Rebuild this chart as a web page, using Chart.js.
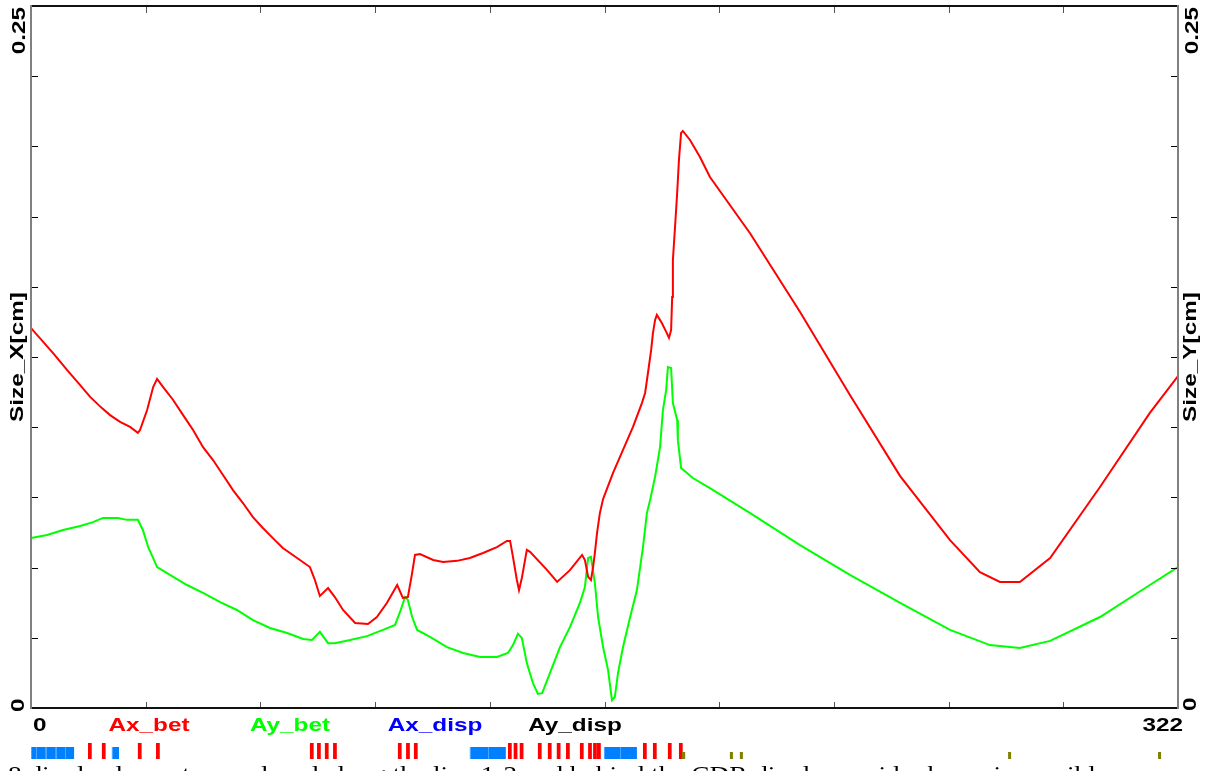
<!DOCTYPE html>
<html>
<head>
<meta charset="utf-8">
<script src="https://cdn.jsdelivr.net/npm/chart.js@4.4.1/dist/chart.umd.min.js"></script>
<style>
  html, body { margin: 0; padding: 0; background: #fff; }
  #wrap { width: 1208px; height: 771px; }
</style>
</head>
<body>
<div id="wrap"><canvas id="optics" width="1208" height="771"></canvas></div>
<script>
'use strict';

// beam size along the line (s in m, size in cm)
const sX = [0, 6.2, 10.1, 13.8, 16.6, 19.9, 22.2, 25.0, 27.8, 30.0, 30.6, 32.6, 34.3, 35.4, 37.1, 39.9, 42.7, 45.5, 48.3, 51.1,
  53.9, 56.7, 59.5, 62.3, 65.1, 67.9, 70.7, 74.7, 78.3, 79.7, 81.1, 83.4, 85.3, 87.6, 91.0, 94.6, 97.1, 99.9, 102.8, 104.4,
  105.8, 107.0, 107.8, 109.2, 112.9, 115.7, 119.6, 123.2, 126.9, 130.8, 133.6, 134.5, 135.3, 136.4, 137.0, 137.8, 139.2, 140.1, 144.9, 147.7,
  151.3, 154.7, 155.5, 156.4, 157.2, 157.8, 158.3, 158.9, 159.7, 160.6, 163.4, 166.2, 169.0, 171.5, 172.4, 173.2, 174.1, 174.6, 175.2, 175.7,
  177.1, 178.5, 179.1, 179.7, 180.0, 180.2, 180.8, 181.4, 181.9, 182.5, 183.0, 185.0, 187.8, 190.6, 201.9, 215.9, 229.9, 244.0, 258.0, 266.4,
  272.0, 277.6, 286.1, 300.1, 314.1, 322];
const sizeX = [0.1353, 0.1264, 0.1204, 0.1150, 0.1108, 0.1068, 0.1043, 0.1019, 0.1001, 0.0980, 0.0990, 0.1061, 0.1143, 0.1172, 0.1143, 0.1097, 0.1043, 0.0990, 0.0929, 0.0883,
  0.0830, 0.0776, 0.0730, 0.0680, 0.0641, 0.0605, 0.0570, 0.0534, 0.0502, 0.0456, 0.0399, 0.0427, 0.0395, 0.0349, 0.0303, 0.0299, 0.0324, 0.0374, 0.0438, 0.0392,
  0.0395, 0.0481, 0.0545, 0.0548, 0.0527, 0.0520, 0.0524, 0.0534, 0.0552, 0.0573, 0.0595, 0.0595, 0.0538, 0.0456, 0.0420, 0.0463, 0.0563, 0.0556, 0.0491, 0.0449,
  0.0491, 0.0545, 0.0527, 0.0467, 0.0456, 0.0502, 0.0552, 0.0623, 0.0694, 0.0744, 0.0837, 0.0919, 0.1001, 0.1086, 0.1122, 0.1193, 0.1275, 0.1335, 0.1382, 0.1400,
  0.1371, 0.1335, 0.1318, 0.1346, 0.1464, 0.1595, 0.1713, 0.1834, 0.1952, 0.2048, 0.2055, 0.2023, 0.1962, 0.1891, 0.1690, 0.1410, 0.1115, 0.0826, 0.0598, 0.0484,
  0.0449, 0.0449, 0.0534, 0.0787, 0.1051, 0.1182];

const sY = [0, 4.5, 9.0, 13.8, 17.4, 20.2, 24.4, 27.0, 30.0, 31.4, 32.9, 34.3, 35.4, 39.0, 43.8, 48.3, 53.1, 57.8, 62.3, 67.1,
  71.9, 76.4, 78.9, 81.1, 83.4, 85.3, 89.6, 94.3, 98.8, 102.2, 103.6, 105.0, 105.8, 107.0, 108.4, 112.0, 116.8, 121.3, 126.1, 130.8,
  133.9, 135.3, 136.7, 137.8, 139.2, 140.9, 142.3, 143.5, 145.7, 148.5, 151.3, 154.1, 155.5, 156.4, 157.2, 158.3, 159.2, 160.6, 162.0, 163.1,
  163.9, 164.8, 166.2, 168.2, 170.1, 171.8, 172.9, 173.8, 175.2, 176.6, 177.4, 178.3, 178.8, 179.7, 180.2, 181.4, 181.6, 182.5, 185.8, 190.6,
  201.9, 215.9, 229.9, 244.0, 258.0, 269.2, 277.6, 286.1, 300.1, 314.1, 322];
const sizeY = [0.0605, 0.0616, 0.0634, 0.0648, 0.0662, 0.0677, 0.0677, 0.0670, 0.0670, 0.0634, 0.0573, 0.0534, 0.0502, 0.0474, 0.0438, 0.0410, 0.0377, 0.0349, 0.0313, 0.0285,
  0.0267, 0.0246, 0.0242, 0.0271, 0.0231, 0.0231, 0.0242, 0.0256, 0.0278, 0.0296, 0.0342, 0.0395, 0.0385, 0.0324, 0.0278, 0.0253, 0.0217, 0.0196, 0.0182, 0.0182,
  0.0196, 0.0224, 0.0264, 0.0249, 0.0160, 0.0089, 0.0050, 0.0053, 0.0125, 0.0217, 0.0288, 0.0374, 0.0431, 0.0534, 0.0538, 0.0445, 0.0324, 0.0217, 0.0135, 0.0028,
  0.0039, 0.0125, 0.0217, 0.0324, 0.0420, 0.0573, 0.0694, 0.0741, 0.0823, 0.0930, 0.1061, 0.1132, 0.1214, 0.1211, 0.1086, 0.1026, 0.0954, 0.0855, 0.0819, 0.0783,
  0.0694, 0.0580, 0.0474, 0.0374, 0.0278, 0.0224, 0.0214, 0.0239, 0.0324, 0.0438, 0.0502];

// axis ticks and labels
const xTicks = [0, 32.2, 64.4, 96.6, 128.8, 161, 193.2, 225.4, 257.6, 289.8, 322];
const yTicks = [0, 0.025, 0.05, 0.075, 0.1, 0.125, 0.15, 0.175, 0.2, 0.225, 0.25];
const xEndLabels = ['0', '322'];
const yEndLabels = ['0', '0.25'];
const legendNames = ['Ax_bet', 'Ay_bet', 'Ax_disp', 'Ay_disp'];
const legendColors = ['#ff0000', '#00ff00', '#0000ff', '#000000'];

// lattice elements (start s, length)
const bendStart = [0, 1.4, 4.1, 6.9, 9.6, 22.7, 123.2, 128.3, 160.9, 165.4];
const bendLen = [1.4, 2.7, 2.8, 2.7, 2.5, 2.0, 5.1, 5.0, 4.5, 4.7];
const quadStart = [16.0, 19.9, 30.0, 35.1, 78.3, 80.3, 82.5, 84.8, 103.0, 105.3, 107.5, 133.9, 135.5, 137.2,
  142.3, 145.1, 147.6, 150.2, 154.1, 156.4, 157.8, 158.9, 171.8, 174.6, 178.8, 181.9];
const quadLen = 1.05;
const sextStart = [182.8, 196.2, 199.0, 274.3, 316.4];
const sextLen = 0.85;

const caption = '8 dipole elements are placed along the line 1-2 and behind the CDR dipoles a wider beam is possible';

const labelFont = 'bold 19px "Liberation Sans", Arial, sans-serif';

function wideText(ctx, str, x, y, align, rotated) {
    ctx.save();
    ctx.translate(x, y);
    if (rotated) ctx.rotate(-Math.PI / 2);
    ctx.scale(1.28, 1);  // the original font is a stretched helvetica
    ctx.textAlign = align;
    ctx.textBaseline = 'alphabetic';
    ctx.fillText(str, 0, 0);
    ctx.restore();
}

const framePlugin = {
    id: 'frame',
    afterDatasetsDraw(chart) {
        const {ctx, chartArea: a, scales} = chart;
        const xs = scales.x, ys = scales.y;
        ctx.save();

        // ticks, drawn inwards
        ctx.lineWidth = 1;
        ctx.strokeStyle = '#000';
        ctx.beginPath();
        for (const v of yTicks) {
            const py = Math.round(ys.getPixelForValue(v)) + 0.5;
            ctx.moveTo(a.left, py); ctx.lineTo(a.left + 7, py);
            ctx.moveTo(a.right - 7, py); ctx.lineTo(a.right, py);
        }
        ctx.stroke();
        ctx.strokeStyle = '#555';
        ctx.beginPath();
        for (const v of xTicks) {
            const px = Math.round(xs.getPixelForValue(v)) + 0.5;
            ctx.moveTo(px, a.bottom); ctx.lineTo(px, a.bottom - 6);
            ctx.moveTo(px, a.top); ctx.lineTo(px, a.top + 7);
        }
        ctx.stroke();

        // frame
        ctx.lineWidth = 2;
        ctx.strokeStyle = '#111';
        ctx.beginPath();
        ctx.moveTo(a.left, a.top); ctx.lineTo(a.right, a.top);
        ctx.moveTo(a.left, a.bottom); ctx.lineTo(a.right, a.bottom);
        ctx.stroke();
        ctx.strokeStyle = '#808080';
        ctx.beginPath();
        ctx.moveTo(a.left, a.top - 1); ctx.lineTo(a.left, a.bottom + 1);
        ctx.moveTo(a.right, a.top - 1); ctx.lineTo(a.right, a.bottom + 1);
        ctx.stroke();

        // axis labels
        ctx.font = labelFont;
        ctx.fillStyle = '#000';
        const y0 = ys.getPixelForValue(0), y1 = ys.getPixelForValue(0.25);
        wideText(ctx, yEndLabels[0], a.left - 7, y0 + 4, 'left', true);
        wideText(ctx, yEndLabels[1], a.left - 6, y1 + 1, 'right', true);
        wideText(ctx, yEndLabels[0], a.right + 18, y0 + 3, 'left', true);
        wideText(ctx, yEndLabels[1], a.right + 20, y1 + 1, 'right', true);
        wideText(ctx, 'Size_X[cm]', a.left - 8, (a.top + a.bottom) / 2, 'center', true);
        wideText(ctx, 'Size_Y[cm]', a.right + 18, (a.top + a.bottom) / 2, 'center', true);
        wideText(ctx, xEndLabels[0], xs.getPixelForValue(0) + 2, 731, 'left', false);
        wideText(ctx, xEndLabels[1], xs.getPixelForValue(322) + 5, 731, 'right', false);

        const legendX = [149, 290, 435, 575];
        legendNames.forEach((name, i) => {
            ctx.fillStyle = legendColors[i];
            wideText(ctx, name, legendX[i], 731, 'center', false);
        });

        // lattice strip
        const px = (s) => xs.getPixelForValue(s);
        ctx.fillStyle = '#0080ff';
        ctx.strokeStyle = '#4da6ff';
        ctx.lineWidth = 1;
        bendStart.forEach((s, i) => {
            const x1 = px(Math.max(s, -0.3)), x2 = px(s + bendLen[i]);
            ctx.fillRect(x1, 747, x2 - x1, 12);
            ctx.beginPath(); ctx.moveTo(Math.round(x1) + 0.5, 747); ctx.lineTo(Math.round(x1) + 0.5, 759); ctx.stroke();
        });
        ctx.fillStyle = '#ff0000';
        for (const s of quadStart) {
            ctx.fillRect(px(s), 743, px(s + quadLen) - px(s), 16);
        }
        ctx.fillStyle = '#808000';
        for (const s of sextStart) {
            ctx.fillRect(px(s), 752, px(s + sextLen) - px(s), 7);
        }

        // caption line, cut by the bottom of the picture
        ctx.fillStyle = '#000';
        ctx.font = '24px "Liberation Serif", "Times New Roman", serif';
        ctx.textAlign = 'left';
        const w = ctx.measureText(caption).width;
        ctx.save();
        ctx.translate(8, 782);
        ctx.scale(1100 / w, 1);
        ctx.fillText(caption, 0, 0);
        ctx.restore();

        ctx.restore();
    }
};

const ctx = document.getElementById('optics').getContext('2d');

const sizeChart = new Chart(ctx, {
    type: 'line',
    data: {
        datasets: [{
            label: 'Size_X',
            data: sX.map((s, i) => ({x: s, y: sizeX[i]})),
            borderColor: '#ff0000',
            borderWidth: 2,
            pointRadius: 0,
            tension: 0,
            yAxisID: 'y'
        }, {
            label: 'Size_Y',
            data: sY.map((s, i) => ({x: s, y: sizeY[i]})),
            borderColor: '#00ff00',
            borderWidth: 2,
            pointRadius: 0,
            tension: 0,
            yAxisID: 'y2'
        }]
    },
    options: {
        responsive: false,
        animation: false,
        layout: {padding: {left: 31, right: 30, top: 6, bottom: 63}},
        scales: {
            x: {type: 'linear', min: 0, max: 322, display: false},
            y: {min: 0, max: 0.25, display: false},
            y2: {min: 0, max: 0.25, display: false, position: 'right'}
        },
        plugins: {
            legend: {display: false},
            tooltip: {enabled: false}
        }
    },
    plugins: [framePlugin]
});
</script>
</body>
</html>
